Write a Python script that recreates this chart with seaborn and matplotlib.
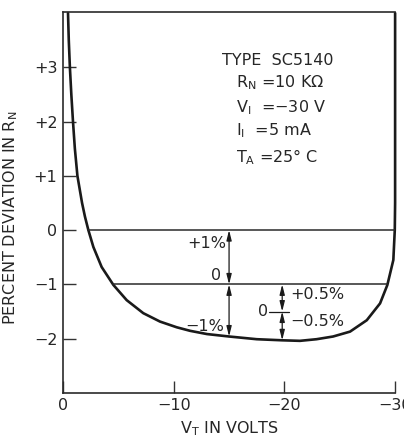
import numpy as np
import pandas as pd
import matplotlib
matplotlib.use('Agg')
import matplotlib.pyplot as plt
import seaborn as sns

# curve (V_T in volts, percent deviation in R_N)
vt = [-0.45, -0.52, -0.62, -0.75, -0.9, -1.07, -1.3, -1.72, -1.98,
      -2.29, -2.74, -3.49, -4.55, -5.75, -7.25, -8.76, -10.27, -11.47, -13.0,
      -15.0, -17.5, -19.8, -21.4, -22.9, -24.4, -25.93, -27.44, -28.64, -29.3,
      -29.84, -29.97, -30.0, -30.0]
dev = [4.0, 3.5, 3.0, 2.5, 2.0, 1.5, 1.0, 0.5, 0.25,
       0.0, -0.31, -0.68, -1.01, -1.29, -1.53, -1.685, -1.79, -1.855, -1.915,
       -1.96, -2.01, -2.03, -2.04, -2.01, -1.96, -1.87, -1.66, -1.35, -1.01,
       -0.55, 0.0, 0.5, 4.0]

# reference lines: level, start, end
ref_levels = [0.0, -1.0]
ref_start = [-2.29, -4.55]
ref_end = [-29.97, -29.3]

x_ticks = [0, -10, -20, -30]
x_labels = ['0', '\u221210', '\u221220', '\u221230']
y_ticks = [-2, -1, 0, 1, 2, 3]
y_labels = ['\u22122', '\u22121', '0', '+1', '+2', '+3']

info_lines = ['TYPE  SC5140',
              '$\\mathregular{R_N}$ =10 K\u03a9',
              '$\\mathregular{V_I}$  =\u221230 V',
              '$\\mathregular{I_I}$  =5 mA',
              '$\\mathregular{T_A}$ =25\u00b0 C']
info_y = [3.13, 2.71, 2.25, 1.84, 1.34]
info_x = [-14.4, -15.6, -15.6, -15.6, -15.6]

sns.set_style('ticks')
plt.rcParams['font.family'] = ['DejaVu Sans']
plt.rcParams['mathtext.default'] = 'regular'

fs = 11.5
ink = '#1a1a1a'

fig = plt.figure(figsize=(4.04, 4.43), dpi=100)
ax = fig.add_axes([0.156, 0.113, 0.822, 0.860])

df = pd.DataFrame({'vt': vt, 'dev': dev})
sns.lineplot(data=df, x='vt', y='dev', sort=False, estimator=None,
             errorbar=None, color=ink, lw=1.9, ax=ax)
for ln in ax.lines:
    ln.set_clip_on(False)
    ln.set_solid_joinstyle('round')

for lvl, a, b in zip(ref_levels, ref_start, ref_end):
    ax.plot([a, b], [lvl, lvl], color='#2a2a2a', lw=1.1)

ax.set_xlim(0, -30)
ax.set_ylim(-3, 4.02)
ax.set_xticks(x_ticks)
ax.set_xticklabels(x_labels, fontsize=fs)
ax.set_yticks(y_ticks)
ax.set_yticklabels(y_labels, fontsize=fs)
ax.tick_params(direction='in', length=9, width=1.0, color='#333333', pad=4)
ax.set_xlabel('$\\mathregular{V_T}$ IN VOLTS', fontsize=fs, labelpad=4)
ax.set_ylabel('PERCENT DEVIATION IN $\\mathregular{R_N}$', fontsize=fs)
ax.yaxis.set_label_coords(-0.13, 0.46)

for side in ['left', 'bottom', 'top']:
    ax.spines[side].set_linewidth(1.2)
    ax.spines[side].set_color('#2a2a2a')
ax.spines['right'].set_visible(False)

# double arrows
arr = dict(arrowstyle='<|-|>,head_length=0.6,head_width=0.15', color=ink,
           lw=0.9, shrinkA=0, shrinkB=0)
ax.annotate('', xy=(-15, 0), xytext=(-15, -1), arrowprops=arr)
ax.annotate('', xy=(-15, -1), xytext=(-15, -1.96), arrowprops=arr)
ax.annotate('', xy=(-19.8, -1), xytext=(-19.8, -1.5), arrowprops=arr)
ax.annotate('', xy=(-19.8, -1.5), xytext=(-19.8, -2.03), arrowprops=arr)
ax.plot([-18.6, -20.4], [-1.5, -1.5], color=ink, lw=0.9)

ax.text(-13.0, -0.24, '+1%', fontsize=fs, ha='center', va='center')
ax.text(-13.8, -0.83, '0', fontsize=fs, ha='center', va='center')
ax.text(-12.8, -1.77, '\u22121%', fontsize=fs, ha='center', va='center')
ax.text(-18.1, -1.5, '0', fontsize=fs, ha='center', va='center')
ax.text(-20.5, -1.19, '+0.5%', fontsize=fs, ha='left', va='center')
ax.text(-20.5, -1.69, '\u22120.5%', fontsize=fs, ha='left', va='center')

for txt, yy, xx in zip(info_lines, info_y, info_x):
    ax.text(xx, yy, txt, fontsize=fs, ha='left', va='center')

fig.savefig('out.png', dpi=100)
